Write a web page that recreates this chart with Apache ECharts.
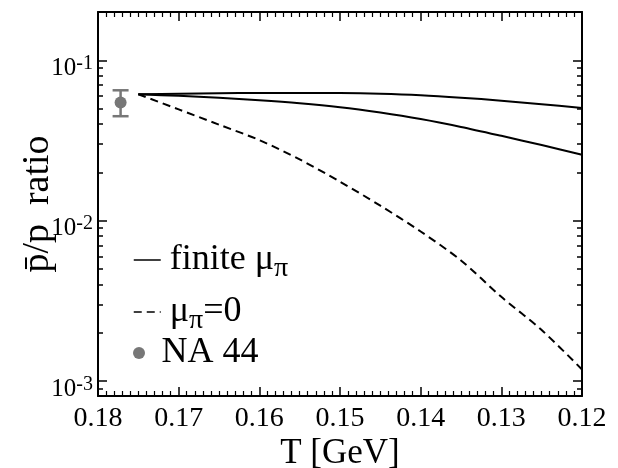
<!DOCTYPE html>
<html>
<head>
<meta charset="utf-8">
<script src="https://cdn.jsdelivr.net/npm/echarts@6/dist/echarts.min.js"></script>
<style>
html,body{margin:0;padding:0;background:#fff;}
#chart{width:618px;height:468px;}
</style>
</head>
<body>
<div id="chart"></div>
<script>
// Temperature values (GeV)
var temps = [0.175, 0.17, 0.165, 0.16, 0.155, 0.15, 0.145, 0.14, 0.135, 0.13, 0.125, 0.12];
// finite mu_pi (upper solid)
var finiteUpper = [0.0614, 0.0619, 0.0623, 0.0625, 0.0626, 0.0625, 0.0619, 0.0606, 0.0585, 0.0560, 0.0532, 0.0504];
// finite mu_pi (lower solid)
var finiteLower = [0.0614, 0.0600, 0.0584, 0.0564, 0.0540, 0.0510, 0.0472, 0.0430, 0.0384, 0.0338, 0.0296, 0.0258];
// mu_pi = 0 (dashed)
var muZero = [0.0614, 0.0494, 0.0397, 0.0318, 0.0241, 0.0175, 0.0124, 0.00856, 0.00565, 0.00335, 0.00208, 0.00118];
// NA 44 data point
var na44T = [0.1772];
var na44Val = [0.0545];
var na44Lo = [0.0448];
var na44Hi = [0.065];
// axis ranges and ticks
var xMin = 0.12, xMax = 0.18, xStep = 0.01;
var yMin = 8.07e-4, yMax = 0.2;
var yDecades = [-3, -2, -1];

var LG = function (v) { return Math.log(v) / Math.LN10; };
var lmin = LG(yMin), lmax = LG(yMax);

function series(vals) {
  return temps.map(function (t, i) { return [t, LG(vals[i])]; });
}
var minorVals = [];
for (var n = -4; n <= -1; n++) {
  for (var k = 2; k <= 9; k++) {
    var v = LG(k * Math.pow(10, n));
    if (v > lmin + 0.005 && v < lmax - 0.005) minorVals.push(v);
  }
}

var FONT = 'Liberation Serif';
var chart = echarts.init(document.getElementById('chart'), null, {renderer: 'canvas'});

function yAx(pos, major, showLabel, showName) {
  return {
    type: 'value', position: pos, min: lmin, max: lmax,
    axisLine: {show: major, lineStyle: {color: '#000', width: 2}},
    splitLine: {show: false},
    axisTick: {show: true, inside: true, length: major ? 9 : 5,
      customValues: major ? yDecades : minorVals,
      lineStyle: {color: '#000', width: 1.5}},
    axisLabel: {show: showLabel, customValues: yDecades, margin: 5,
      formatter: function (v) { return '{n|10}{s|' + Math.round(v) + '}'; },
      rich: {
        n: {fontFamily: FONT, fontSize: 25, lineHeight: 25, padding: [16, 0, 0, 0], color: '#000'},
        s: {fontFamily: FONT, fontSize: 20, lineHeight: 20, padding: [6, 0, 0, 0], verticalAlign: 'top', color: '#000'}
      }},
    name: showName ? 'p\u0304/p  ratio' : '',
    nameLocation: 'middle', nameRotate: 90, nameGap: 41, nameMoveOverlap: false,
    nameTextStyle: {fontFamily: FONT, fontSize: 38, color: '#000'}
  };
}
function xAx(pos, showLabel) {
  return {
    type: 'value', position: pos, min: xMin, max: xMax, interval: xStep, inverse: true,
    axisLine: {show: true, lineStyle: {color: '#000', width: 2}},
    splitLine: {show: false},
    axisTick: {show: true, inside: true, length: 9, lineStyle: {color: '#000', width: 1.5}},
    minorTick: {show: true, splitNumber: 10, length: 5, lineStyle: {color: '#000', width: 1.2}},
    minorSplitLine: {show: false},
    axisLabel: {show: showLabel, margin: 9, fontFamily: FONT, fontSize: 28, color: '#000',
      formatter: function (v) { return v.toFixed(2); }},
    name: showLabel ? 'T [GeV]' : '',
    nameLocation: 'middle', nameGap: 40, nameMoveOverlap: false,
    nameTextStyle: {fontFamily: FONT, fontSize: 35, color: '#000'}
  };
}

var subRich = {
  m: {fontFamily: FONT, fontSize: 36, color: '#000'},
  p: {fontFamily: FONT, fontSize: 28, lineHeight: 28, padding: [18, 0, 0, 0], color: '#000'}
};
var names = {
  'finite': 'finite {m|\u03bc}{p|\u03c0}',
  'mu0': '{m|\u03bc}{p|\u03c0}=0',
  'NA 44': 'NA 44'
};
function legend(name, top, hideSymbol) {
  var l = {
    data: [name], left: 133, top: top, orient: 'vertical',
    itemWidth: 27, itemHeight: 12, selectedMode: false, padding: 0,
    formatter: function (n) { return names[n]; },
    textStyle: {fontFamily: FONT, fontSize: 36, color: '#000', padding: [0, 0, 0, 4], rich: subRich}
  };
  if (hideSymbol) {
    l.itemStyle = {color: 'rgba(0,0,0,0)', borderColor: 'rgba(0,0,0,0)', borderWidth: 0};
    l.lineStyle = {width: 1.5};
  }
  return l;
}

var option = {
  animation: false,
  backgroundColor: '#fff',
  grid: {left: 98, right: 36, top: 12, bottom: 72, containLabel: false, outerBoundsMode: 'none'},
  legend: [legend('finite', 237, true), legend('mu0', 289, true), legend('NA 44', 335, false)],
  xAxis: [xAx('bottom', true), xAx('top', false)],
  yAxis: [yAx('left', true, true, true), yAx('left', false, false, false),
          yAx('right', true, false, false), yAx('right', false, false, false)],
  series: [
    {name: 'finite', type: 'line', data: series(finiteUpper), smooth: 0.3, symbol: 'none',
      lineStyle: {color: '#000', width: 2}, itemStyle: {color: '#000'}},
    {name: 'finite', type: 'line', data: series(finiteLower), smooth: 0.3, symbol: 'none',
      lineStyle: {color: '#000', width: 2}, itemStyle: {color: '#000'}},
    {name: 'mu0', type: 'line', data: series(muZero), smooth: 0.3, symbol: 'none',
      lineStyle: {color: '#000', width: 2, type: [8, 5]}, itemStyle: {color: '#000'}},
    {name: 'errbar', type: 'custom',
      data: na44T.map(function (t, i) { return [t, LG(na44Lo[i]), LG(na44Hi[i])]; }),
      renderItem: function (params, api) {
        var lo = api.coord([api.value(0), api.value(1)]);
        var hi = api.coord([api.value(0), api.value(2)]);
        var st = {stroke: '#777', lineWidth: 2.5};
        return {type: 'group', children: [
          {type: 'line', shape: {x1: lo[0], y1: lo[1], x2: hi[0], y2: hi[1]}, style: st},
          {type: 'line', shape: {x1: lo[0] - 8, y1: lo[1], x2: lo[0] + 8, y2: lo[1]}, style: st},
          {type: 'line', shape: {x1: hi[0] - 8, y1: hi[1], x2: hi[0] + 8, y2: hi[1]}, style: st}
        ]};
      }, z: 3},
    {name: 'NA 44', type: 'scatter', symbol: 'circle', symbolSize: 12,
      data: na44T.map(function (t, i) { return [t, LG(na44Val[i])]; }),
      itemStyle: {color: '#777', opacity: 1}, z: 4}
  ]
};
chart.setOption(option);
</script>
</body>
</html>
